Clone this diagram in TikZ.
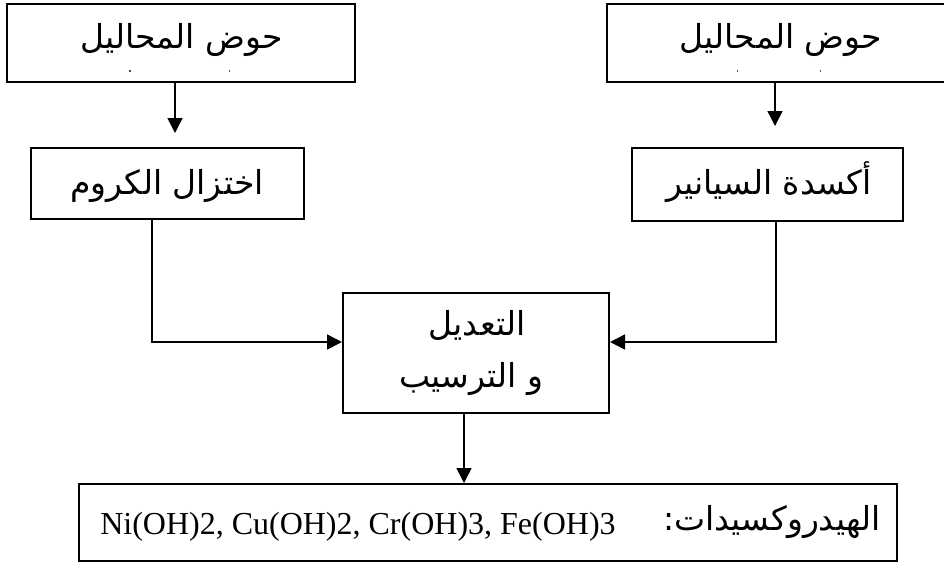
\documentclass[tikz,border=0pt]{standalone}
\usepackage{fontspec}
\setmainfont{Liberation Serif}
\newfontfamily\arabicfont[Script=Arabic]{DejaVu Sans}
\TeXXeTstate=1
\usetikzlibrary{arrows.meta}
\begin{document}
\begin{tikzpicture}[x=1pt,y=-1pt,
  box/.style={draw, line width=2pt, rectangle, inner sep=0pt},
  conn/.style={line width=1.5pt},
  arr/.style={conn, -{Triangle[length=15pt,width=15pt]}},
  ar/.style={font=\arabicfont\fontsize{33}{40}\selectfont, inner sep=0pt, anchor=base},
  lat/.style={font=\fontsize{32}{38}\selectfont, inner sep=0pt, anchor=base},
  speck/.style={fill=black!70, draw=none}
]
\useasboundingbox (0,0) rectangle (944,563);
% boxes
\node[box, minimum width=348pt, minimum height=78pt] (tl) at (181,43) {};
\node[minimum width=337pt, minimum height=78pt, inner sep=0pt] (tr) at (775.5,43) {};
\draw[line width=2pt] (tr.north east) -- (tr.north west) -- (tr.south west) -- (tr.south east);
\node[box, minimum width=273pt, minimum height=71pt] (ml) at (167.5,183.5) {};
\node[box, minimum width=271pt, minimum height=73pt] (mr) at (767.5,184.5) {};
\node[box, minimum width=266pt, minimum height=120pt] (c) at (476,353) {};
\node[box, minimum width=818pt, minimum height=77pt] (b) at (488,522.5) {};
% texts
\node[ar] (t1) at (181.5,48) {\beginR حوض المحاليل\endR};
\node[ar] (t2) at (781,48) {\beginR حوض المحاليل\endR};
\node[ar] (t3) at (167,194) {\beginR اختزال الكروم\endR};
\node[ar] (t4) at (769,194) {\beginR أكسدة السيانير\endR};
\node[ar] (t5) at (477,335) {\beginR التعديل\endR};
\node[ar] (t6) at (471,387) {\beginR و الترسيب\endR};
\node[ar] (t7) at (772,530) {\beginR الهيدروكسيدات:\endR};
\node[lat] (t8) at (358,534) {Ni(OH)2, Cu(OH)2, Cr(OH)3, Fe(OH)3};
% specks
\fill[speck] (129,70) rectangle (130.5,71.5);
\fill[speck] (228.5,70) rectangle (230,71.5);
\fill[speck] (736.5,70) rectangle (738,71.5);
\fill[speck] (819.5,70) rectangle (821,71.5);
% connectors
\coordinate (a1) at (175,133);
\coordinate (a2) at (775,126);
\coordinate (lb) at (152,342);
\coordinate (rb) at (776,342);
\coordinate (bd) at (464,488);
\draw[arr] (tl.south -| a1) -- (a1);
\draw[arr] (tr.south -| a2) -- (a2);
\draw[arr] (ml.south -| lb) -- (lb) -- (c.west |- lb);
\draw[arr] (mr.south -| rb) -- (rb) -- (c.east |- rb);
\draw[arr] (c.south -| bd) -- (b.north -| bd);
\end{tikzpicture}
\end{document}
